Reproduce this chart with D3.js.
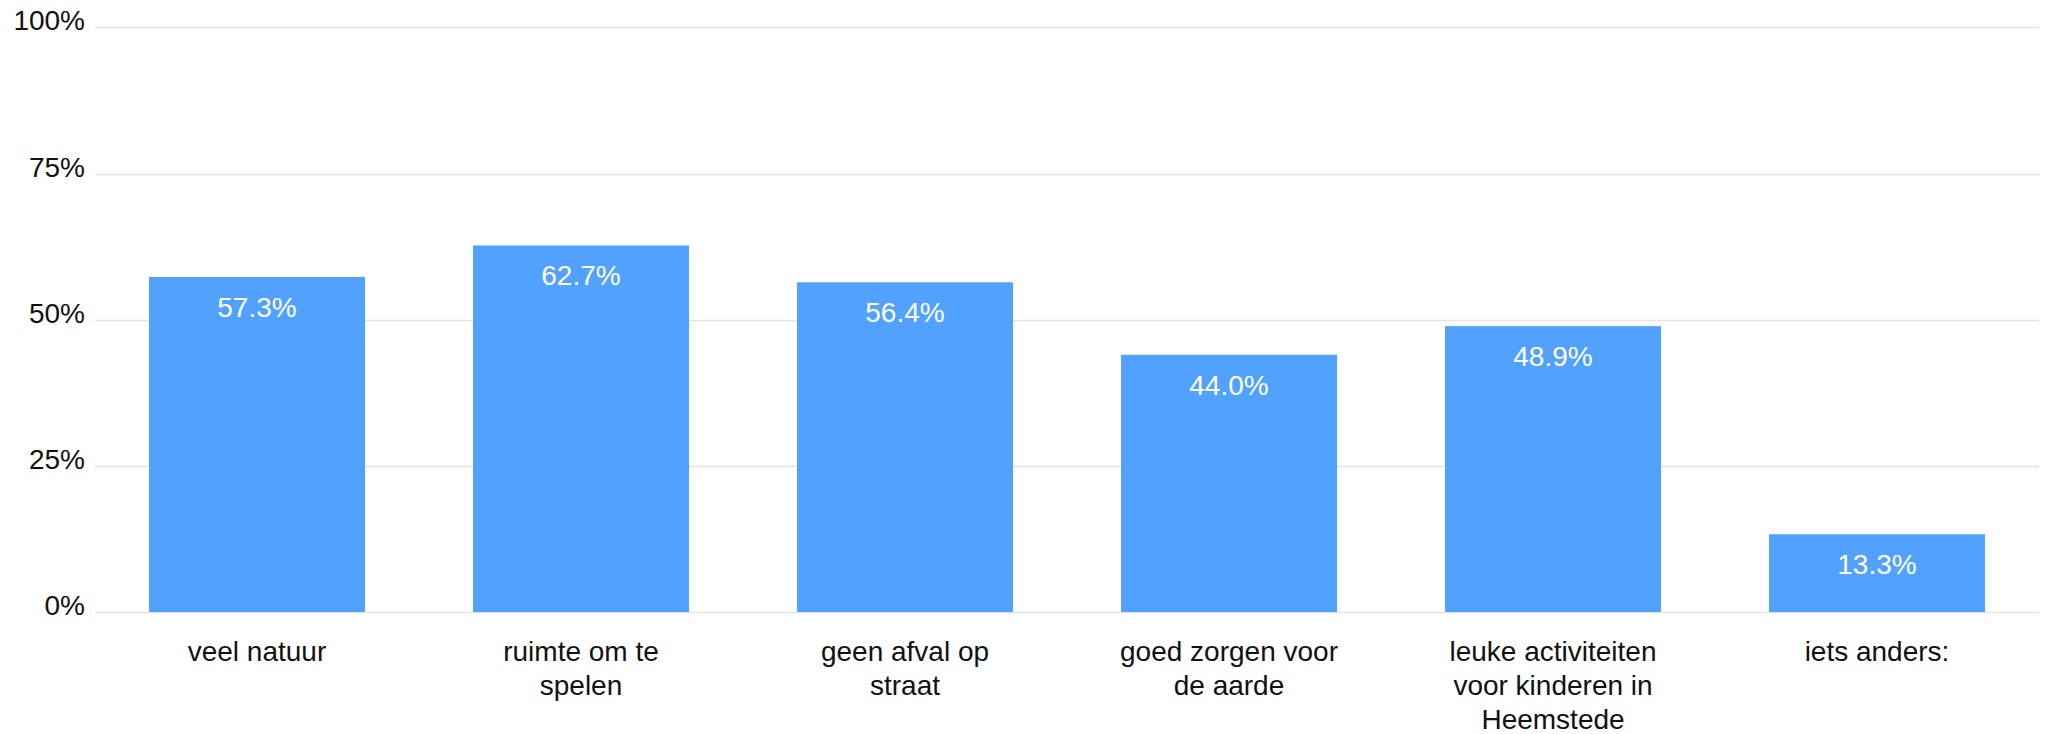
<!DOCTYPE html>
<html>
<head>
<meta charset="utf-8">
<script src="https://cdn.jsdelivr.net/npm/d3@7"></script>
<style>
  html, body { margin: 0; padding: 0; background: #ffffff; }
  svg { display: block; }
  text { font-family: "Liberation Sans", Arial, sans-serif; }
</style>
</head>
<body>
<svg id="chart" width="2049" height="734"></svg>
<script>
const categories = [
  "veel natuur",
  "ruimte om te spelen",
  "geen afval op straat",
  "goed zorgen voor de aarde",
  "leuke activiteiten voor kinderen in Heemstede",
  "iets anders:"
];
const values = [57.3, 62.7, 56.4, 44.0, 48.9, 13.3];
const yTicks = [0, 25, 50, 75, 100];

const W = 2049, H = 734;
const mLeft = 95, mRight = 2039, mTop = 27.4, mBottom = 612;

const svg = d3.select("#chart");

const x = d3.scaleBand()
  .domain(categories)
  .range([mLeft, mRight])
  .paddingInner(1/3)
  .paddingOuter(1/6);

const y = d3.scaleLinear()
  .domain([0, 100])
  .range([mBottom, mTop]);

// gridlines
svg.append("g")
  .selectAll("line")
  .data(yTicks)
  .join("line")
  .attr("x1", mLeft)
  .attr("x2", mRight)
  .attr("y1", d => Math.round(y(d)) + 0.5)
  .attr("y2", d => Math.round(y(d)) + 0.5)
  .attr("stroke", "#e3e3e3")
  .attr("stroke-width", 1.5);

// y tick labels
svg.append("g")
  .selectAll("text")
  .data(yTicks)
  .join("text")
  .attr("x", 85)
  .attr("y", d => y(d) + 3)
  .attr("text-anchor", "end")
  .attr("font-size", 28)
  .attr("fill", "#111")
  .text(d => d + "%");

// bars
svg.append("g")
  .selectAll("rect")
  .data(values)
  .join("rect")
  .attr("x", (d, i) => x(categories[i]))
  .attr("width", x.bandwidth())
  .attr("y", d => y(d))
  .attr("height", d => y(0) - y(d))
  .attr("fill", "#51a1ff");

// value labels
svg.append("g")
  .selectAll("text")
  .data(values)
  .join("text")
  .attr("x", (d, i) => x(categories[i]) + x.bandwidth() / 2)
  .attr("y", d => y(d) + 40)
  .attr("text-anchor", "middle")
  .attr("font-size", 28)
  .attr("fill", "#ffffff")
  .text(d => d.toFixed(1) + "%");

// category labels with wrapping
const maxW = 232;
const lineH = 34;
const catG = svg.append("g");
categories.forEach(cat => {
  const cx = x(cat) + x.bandwidth() / 2;
  const t = catG.append("text")
    .attr("x", cx)
    .attr("y", 661)
    .attr("text-anchor", "middle")
    .attr("font-size", 28)
    .attr("fill", "#111");
  const words = cat.split(" ");
  let line = [];
  let tspan = t.append("tspan").attr("x", cx).attr("dy", 0);
  words.forEach(w => {
    line.push(w);
    tspan.text(line.join(" "));
    if (tspan.node().getComputedTextLength() > maxW && line.length > 1) {
      line.pop();
      tspan.text(line.join(" "));
      line = [w];
      tspan = t.append("tspan").attr("x", cx).attr("dy", lineH).text(w);
    }
  });
});
</script>
</body>
</html>
